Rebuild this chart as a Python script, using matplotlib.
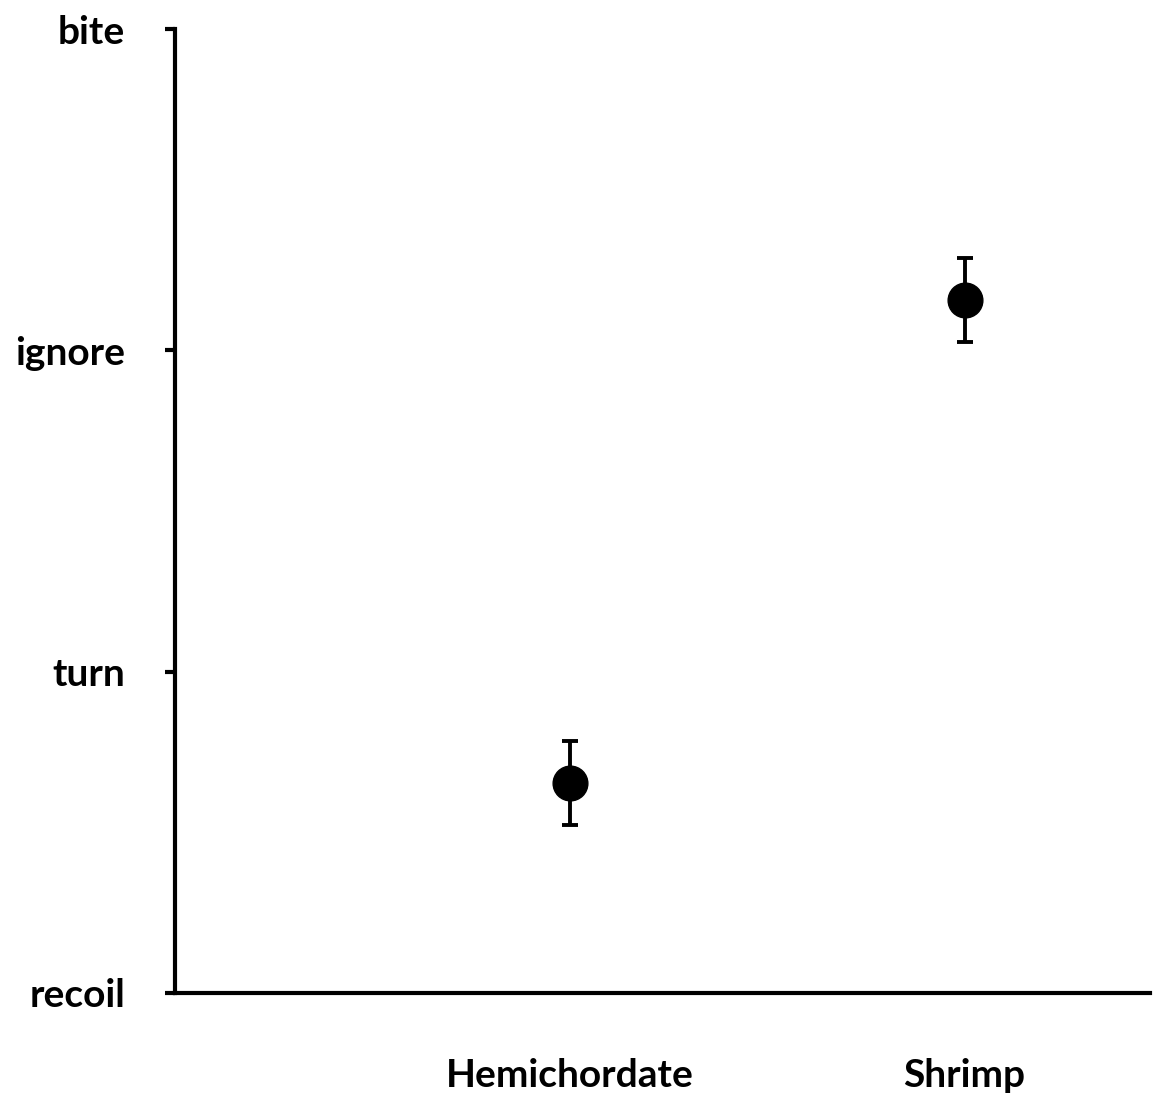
import matplotlib.pyplot as plt

categories = ["Hemichordate", "Shrimp"]
means = [0.654, 2.157]
errors = [0.13, 0.13]
levels = ["recoil", "turn", "ignore", "bite"]

plt.rcParams["font.family"] = ["Lato", "DejaVu Sans"]

fig = plt.figure(figsize=(11.56, 10.99), dpi=100)
ax = fig.add_axes([0.1514, 0.0965, 0.8435, 0.8771])

xs = [i + 1 for i in range(len(categories))]
ax.errorbar(xs, means, yerr=errors, fmt="o", color="black",
            markersize=25, elinewidth=2.8, capsize=6, capthick=2.8)

ax.set_xlim(0, 2.47)
ax.set_ylim(0, 3)
ax.set_yticks(range(len(levels)))
ax.set_yticklabels(levels, fontsize=28, fontweight="bold")
ax.set_xticks(xs)
ax.set_xticklabels(categories, fontsize=28, fontweight="bold")

for s in ["top", "right"]:
    ax.spines[s].set_visible(False)
for s in ["left", "bottom"]:
    ax.spines[s].set_linewidth(3)
ax.tick_params(axis="y", length=7, width=3, pad=29)
ax.tick_params(axis="x", length=0, pad=47)

fig.savefig("out.png", dpi=100, facecolor="white")
